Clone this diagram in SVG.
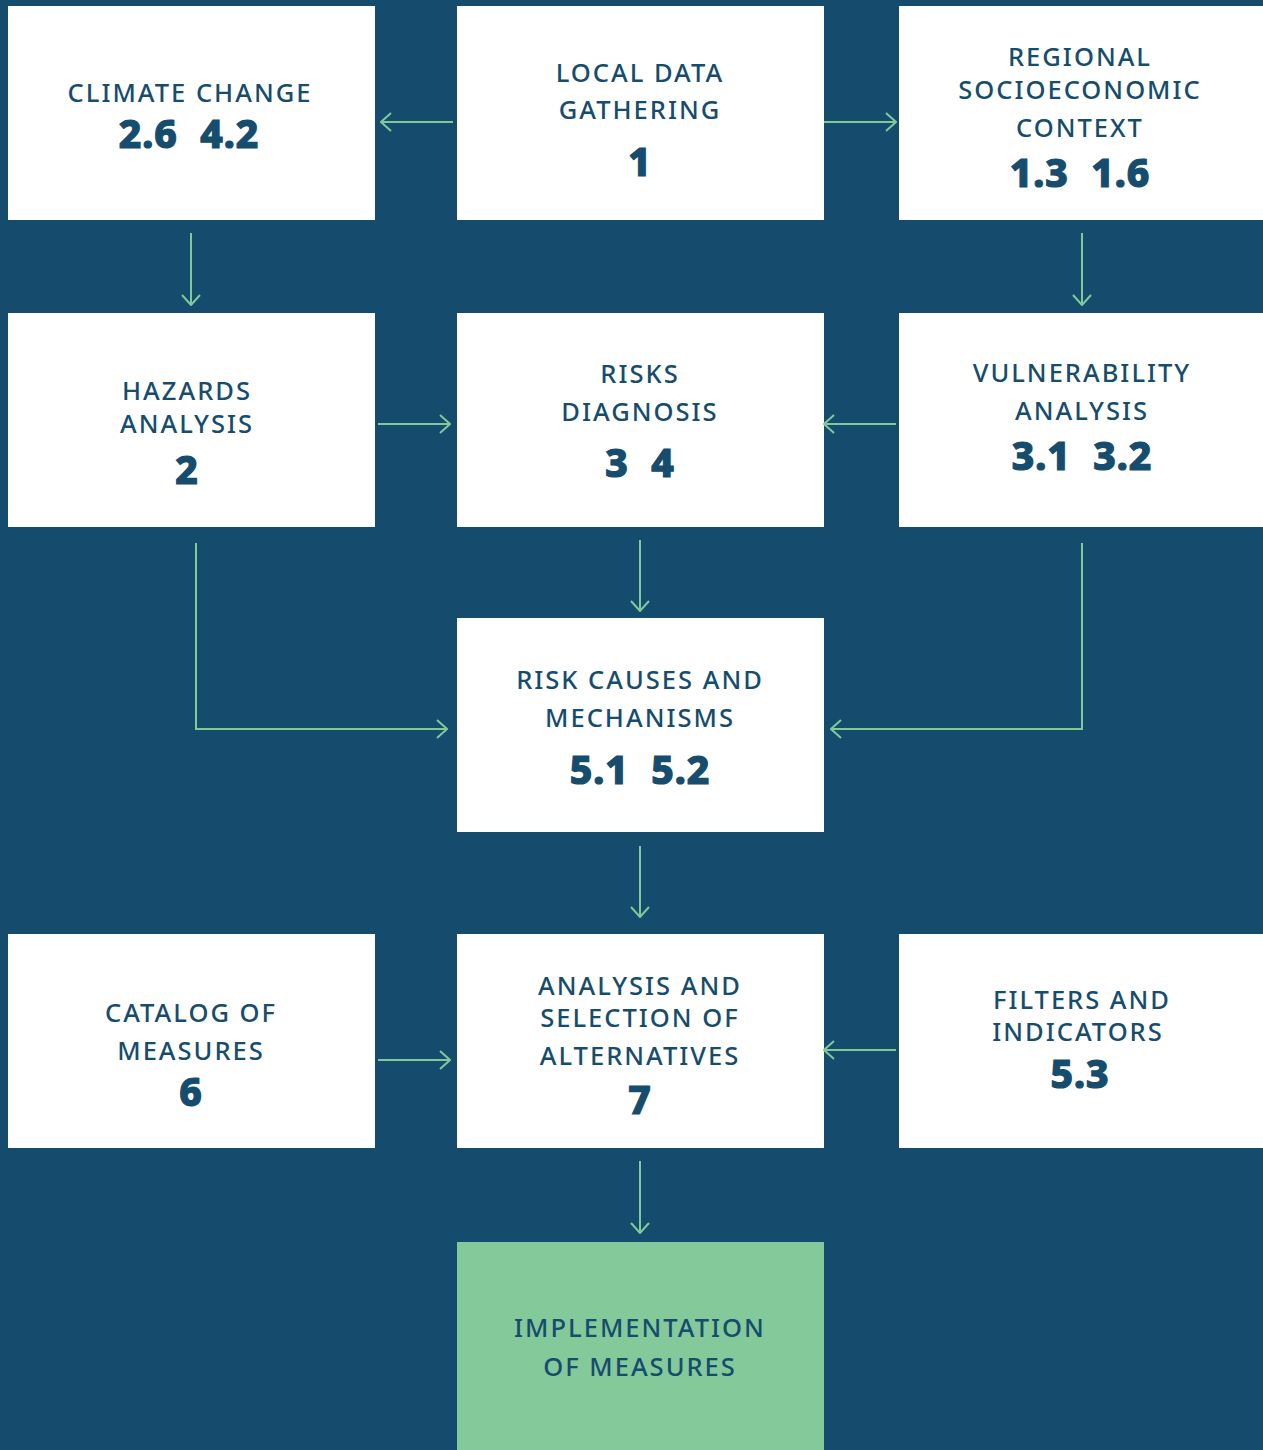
<svg xmlns="http://www.w3.org/2000/svg" width="1263" height="1450" viewBox="0 0 1263 1450">
<defs>
<style>
.box{fill:#ffffff}
.boxg{fill:#84c99a}
.lbl{font-family:"Noto Sans","Liberation Sans",sans-serif;font-size:25.5px;font-weight:500;fill:#164c6d;text-anchor:middle;letter-spacing:2px}
.num{font-family:"Noto Sans","Liberation Sans",sans-serif;font-size:39px;font-weight:800;fill:#164c6d;stroke:#164c6d;stroke-width:1.2px;text-anchor:middle;letter-spacing:1px}
.con{fill:none;stroke:#7fc99a;stroke-width:2}
</style>
<marker id="ah" viewBox="0 0 12 20" refX="11" refY="10" markerWidth="12" markerHeight="20" markerUnits="userSpaceOnUse" orient="auto">
<path d="M1,1 L11,10 L1,19" fill="none" stroke="#7fc99a" stroke-width="2"/>
</marker>
</defs>
<rect x="0" y="0" width="1263" height="1450" fill="#154c6d"/>

<g id="climate-change">
<rect class="box" x="8" y="6" width="367" height="214"/>
<text class="lbl" x="190" y="102">CLIMATE CHANGE</text>
<text class="num" x="189" y="148" xml:space="preserve">2.6  4.2</text>
</g>
<g id="local-data">
<rect class="box" x="457" y="6" width="367" height="214"/>
<text class="lbl" x="640" y="82">LOCAL DATA</text>
<text class="lbl" x="640" y="119">GATHERING</text>
<text class="num" x="640" y="176">1</text>
</g>
<g id="regional-context">
<rect class="box" x="899" y="6" width="364" height="214"/>
<text class="lbl" x="1080" y="66">REGIONAL</text>
<text class="lbl" x="1080" y="99">SOCIOECONOMIC</text>
<text class="lbl" x="1080" y="137">CONTEXT</text>
<text class="num" x="1080" y="187" xml:space="preserve">1.3  1.6</text>
</g>
<g id="hazards">
<rect class="box" x="8" y="313" width="367" height="214"/>
<text class="lbl" x="187" y="400">HAZARDS</text>
<text class="lbl" x="187" y="433">ANALYSIS</text>
<text class="num" x="187" y="484">2</text>
</g>
<g id="risks">
<rect class="box" x="457" y="313" width="367" height="214"/>
<text class="lbl" x="640" y="383">RISKS</text>
<text class="lbl" x="640" y="421">DIAGNOSIS</text>
<text class="num" x="640" y="477" xml:space="preserve">3  4</text>
</g>
<g id="vulnerability">
<rect class="box" x="899" y="313" width="364" height="214"/>
<text class="lbl" x="1082" y="382">VULNERABILITY</text>
<text class="lbl" x="1082" y="420">ANALYSIS</text>
<text class="num" x="1082" y="470" xml:space="preserve">3.1  3.2</text>
</g>
<g id="risk-causes">
<rect class="box" x="457" y="618" width="367" height="214"/>
<text class="lbl" x="640" y="689">RISK CAUSES AND</text>
<text class="lbl" x="640" y="727">MECHANISMS</text>
<text class="num" x="640" y="784" xml:space="preserve">5.1  5.2</text>
</g>
<g id="catalog">
<rect class="box" x="8" y="934" width="367" height="214"/>
<text class="lbl" x="191" y="1022">CATALOG OF</text>
<text class="lbl" x="191" y="1060">MEASURES</text>
<text class="num" x="191" y="1106">6</text>
</g>
<g id="analysis-selection">
<rect class="box" x="457" y="934" width="367" height="214"/>
<text class="lbl" x="640" y="995">ANALYSIS AND</text>
<text class="lbl" x="640" y="1027">SELECTION OF</text>
<text class="lbl" x="640" y="1065">ALTERNATIVES</text>
<text class="num" x="640" y="1114">7</text>
</g>
<g id="filters">
<rect class="box" x="899" y="934" width="364" height="214"/>
<text class="lbl" x="1082" y="1009">FILTERS AND</text>
<text class="lbl" x="1078" y="1041">INDICATORS</text>
<text class="num" x="1080" y="1088">5.3</text>
</g>
<g id="implementation">
<rect class="boxg" x="457" y="1242" width="367" height="208"/>
<text class="lbl" x="640" y="1337">IMPLEMENTATION</text>
<text class="lbl" x="640" y="1376">OF MEASURES</text>
</g>

<g id="connectors">
<path class="con" marker-end="url(#ah)" d="M453,122 H381"/>
<path class="con" marker-end="url(#ah)" d="M824,122 H896"/>
<path class="con" marker-end="url(#ah)" d="M191,233 V305"/>
<path class="con" marker-end="url(#ah)" d="M1082,233 V305"/>
<path class="con" marker-end="url(#ah)" d="M378,424 H450"/>
<path class="con" marker-end="url(#ah)" d="M896,424 H824"/>
<path class="con" marker-end="url(#ah)" d="M640,540 V611"/>
<path class="con" marker-end="url(#ah)" d="M196,543 V729 H447"/>
<path class="con" marker-end="url(#ah)" d="M1082,543 V729 H831"/>
<path class="con" marker-end="url(#ah)" d="M640,846 V917"/>
<path class="con" marker-end="url(#ah)" d="M378,1060 H450"/>
<path class="con" marker-end="url(#ah)" d="M896,1050 H824"/>
<path class="con" marker-end="url(#ah)" d="M640,1161 V1233"/>
</g>
</svg>
